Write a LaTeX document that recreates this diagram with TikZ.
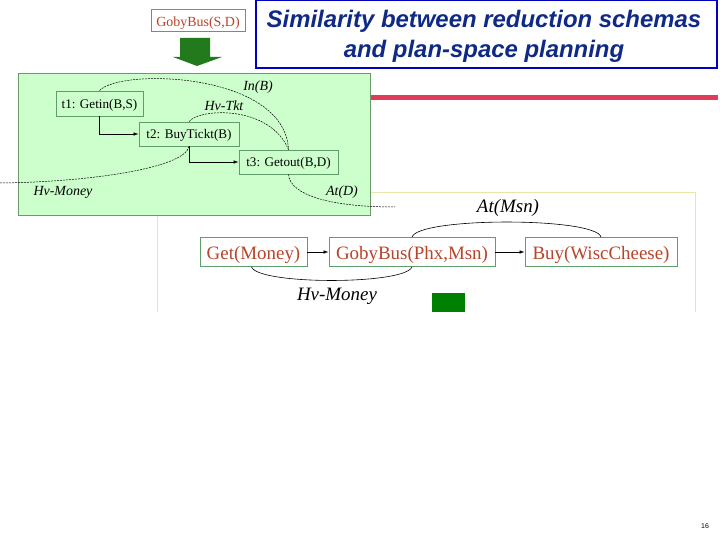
\documentclass[tikz,border=0pt]{standalone}
\usepackage{fontspec}
\setmainfont{Liberation Serif}
\newfontfamily\titlefont{Liberation Sans}
\usetikzlibrary{arrows.meta}
\definecolor{navy}{HTML}{0F2A86}
\definecolor{titleblue}{HTML}{0000C0}
\definecolor{brick}{HTML}{B8442A}
\definecolor{boxgreen}{HTML}{5E9E6A}
\definecolor{panelfill}{HTML}{CCFFCC}
\definecolor{panelline}{HTML}{6A9A6A}
\definecolor{redbar}{HTML}{E03C5A}
\definecolor{arrowgreen}{HTML}{237A1C}
\definecolor{squaregreen}{HTML}{008000}
\definecolor{paleyellow}{HTML}{E6E6A8}
\tikzset{
  smallbox/.style={draw=boxgreen, line width=0.8bp, rectangle, inner sep=0pt, font=\fontsize{13.2}{15}\selectfont, text=black, text height=10bp, text depth=0pt},
  bigbox/.style={draw=boxgreen, line width=0.8bp, rectangle, inner sep=0pt, minimum height=29bp, font=\fontsize{19}{22}\selectfont, text=brick, text height=15.5bp, text depth=0pt},
  link/.style={line width=0.6bp, -{Latex[length=5bp,width=3.5bp]}},
  causal/.style={line width=0.5bp, dashed, dash pattern=on 2bp off 1bp},
  solidcausal/.style={line width=0.6bp},
  smalllabel/.style={font=\fontsize{14}{16}\selectfont\itshape, inner sep=0pt},
  biglabel/.style={font=\fontsize{19}{22}\selectfont\itshape, inner sep=0pt},
}
\begin{document}
\begin{tikzpicture}[x=1bp,y=-1bp]
\useasboundingbox (0,0) rectangle (720,540);
\fill[white] (0,0) rectangle (720,540);
% red bar
\fill[redbar] (370,95) rectangle (718,100);
% yellow frame
\draw[paleyellow, line width=1bp] (157,312) -- (157,192.5) -- (695,192.5) -- (695,312);
% green panel
\draw[panelline, fill=panelfill, line width=0.8bp] (18,73) rectangle (370,215);
% title
\node[draw=titleblue, line width=1.6bp, minimum width=461bp, minimum height=68bp, inner sep=0pt]
      (titleframe) at (486.5,34) {};
\node[text=navy, align=center, inner sep=0pt, font=\titlefont\bfseries\itshape\fontsize{24}{30}\selectfont]
      (title) at (484,36.5) {Similarity between reduction schemas\\and plan-space planning};
% GobyBus(S,D)
\node[draw=boxgreen, line width=0.8bp, minimum width=94bp, minimum height=22bp, inner sep=0pt,
      text=brick, font=\fontsize{14}{16}\selectfont, text height=13.4bp, text depth=0pt] (goby) at (198,20) {GobyBus(S,D)};
% big green arrow
\fill[arrowgreen] (180,38) -- (210,38) -- (210,57) -- (222,57) -- (197,66) -- (173,57) -- (180,57) -- cycle;
% top nodes
\node[smallbox, fill=panelfill, minimum width=87bp, minimum height=25bp] (t1) at (99.5,103.5) {t1: Getin(B,S)};
\node[smallbox, fill=panelfill, minimum width=100bp, minimum height=24bp] (t2) at (189,134) {t2: BuyTickt(B)};
\node[smallbox, fill=panelfill, minimum width=99bp, minimum height=24bp] (t3) at (288.5,162) {t3: Getout(B,D)};
\draw[link] (t1.south) |- (t2.west);
\draw[link] (t2.south) |- (t3.west);
\coordinate (moneyend) at (0,183);
\coordinate (atdend) at (395,207);
\draw[causal] (t1.north) .. controls (120,68) and (285,72) .. (t3.north);
\draw[causal] (t2.north) .. controls (200,108) and (270,105) .. (t3.north);
\draw[causal] (t2.south) .. controls (185,168) and (90,182) .. (moneyend);
\draw[causal] (t3.south) .. controls (290,195) and (330,207) .. (atdend);
\node[smalllabel] (lin) at (258,87) {In(B)};
\node[smalllabel] (ltkt) at (224,106) {Hv-Tkt};
\node[smalllabel] (lmoney) at (63,192) {Hv-Money};
\node[smalllabel] (lat) at (342,192) {At(D)};
% bottom nodes
\node[bigbox, minimum width=107bp] (get) at (253.5,252) {Get(Money)};
\node[bigbox, minimum width=166bp] (bus) at (412,252) {GobyBus(Phx,Msn)};
\node[bigbox, minimum width=152bp] (buy) at (601,252) {Buy(WiscCheese)};
\draw[link] (get) -- (bus);
\draw[link] (bus) -- (buy);
\draw[solidcausal] (bus.north) .. controls (418,217) and (596,217) .. (buy.north);
\draw[solidcausal] ([xshift=-2bp]get.south) .. controls (258,285) and (405,285) .. (bus.south);
\node[biglabel] (latmsn) at (508,208) {At(Msn)};
\node[biglabel] (lhv) at (337,296) {Hv-Money};
% green square
\fill[squaregreen] (432,293) rectangle (465,312);
% page number
\node[font=\titlefont\fontsize{7}{8}\selectfont, inner sep=0pt] (pg) at (705,526) {16};
\end{tikzpicture}
\end{document}
